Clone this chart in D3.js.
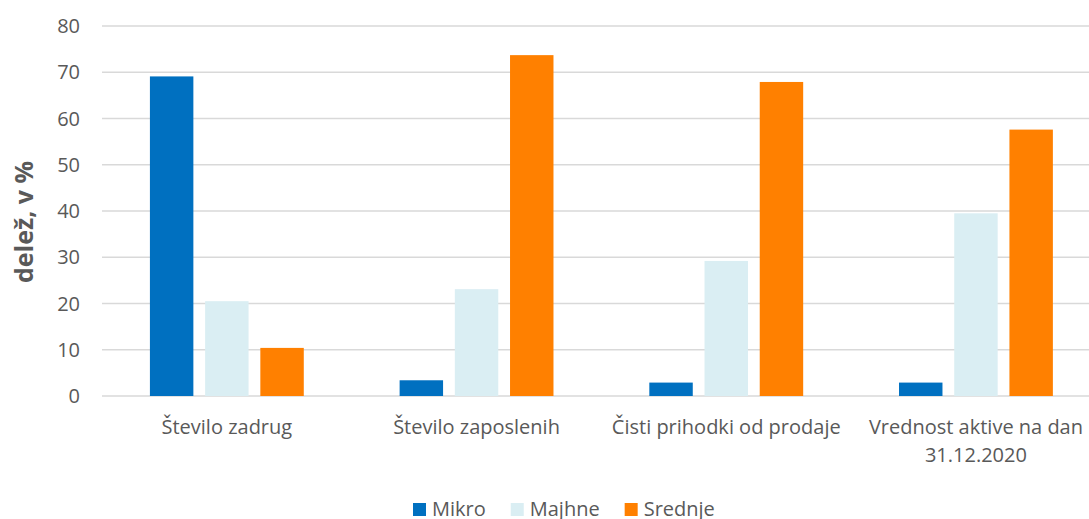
<!DOCTYPE html>
<html>
<head>
<meta charset="utf-8">
<script src="https://cdn.jsdelivr.net/npm/d3@7"></script>
<style>
  body { margin: 0; background: #fff; }
  svg { display: block; font-family: "Open Sans", sans-serif; }
</style>
</head>
<body>
<script>
var width = 1089, height = 519;

// data
var categories = ["Število zadrug", "Število zaposlenih", "Čisti prihodki od prodaje", "Vrednost aktive na dan 31.12.2020"];
var series = ["Mikro", "Majhne", "Srednje"];
var mikro = [69.1, 3.4, 2.9, 2.9];
var majhne = [20.5, 23.1, 29.2, 39.5];
var srednje = [10.4, 73.7, 67.9, 57.6];
var yTicks = [0, 10, 20, 30, 40, 50, 60, 70, 80];
var colors = ["#0070C0", "#DAEEF3", "#FF8000"];

var values = [mikro, majhne, srednje];
var rows = categories.map(function(c, i){
    return { cat: c, vals: series.map(function(s, j){ return { key: s, value: values[j][i] }; }) };
});

var svg = d3.select('body').append('svg')
    .attr('width', width)
    .attr('height', height);

var x0 = d3.scaleBand()
    .domain(categories)
    .range([102, 102 + 4 * 249.7])
    .padding(0);

var x1 = d3.scaleBand()
    .domain(series)
    .range([0, x0.bandwidth()])
    .paddingInner(0.213)
    .paddingOuter(0.868);

var y = d3.scaleLinear()
    .domain([0, 80])
    .range([396, 26]);

var color = d3.scaleOrdinal().domain(series).range(colors);

// gridlines
svg.append('g')
    .selectAll('line')
    .data(yTicks)
    .enter().append('line')
    .attr('x1', 102)
    .attr('x2', width)
    .attr('y1', function(d){ return y(d); })
    .attr('y2', function(d){ return y(d); })
    .attr('stroke', '#d9d9d9')
    .attr('stroke-width', 1.3);

// y tick labels
svg.append('g')
    .selectAll('text')
    .data(yTicks)
    .enter().append('text')
    .attr('x', 80)
    .attr('y', function(d){ return y(d); })
    .attr('dy', '.36em')
    .attr('text-anchor', 'end')
    .attr('font-size', '20px')
    .attr('fill', '#595959')
    .text(function(d){ return d; });

// y title
svg.append('text')
    .attr('transform', 'translate(33,222) rotate(-90)')
    .attr('text-anchor', 'middle')
    .attr('font-size', '25px')
    .attr('font-weight', 'bold')
    .attr('fill', '#595959')
    .text('delež, v %');

// bars
var groups = svg.append('g')
    .selectAll('g')
    .data(rows)
    .enter().append('g')
    .attr('transform', function(d){ return 'translate(' + x0(d.cat) + ',0)'; });

groups.selectAll('rect')
    .data(function(d){ return d.vals; })
    .enter().append('rect')
    .attr('x', function(d){ return x1(d.key); })
    .attr('width', x1.bandwidth())
    .attr('y', function(d){ return y(d.value); })
    .attr('height', function(d){ return y(0) - y(d.value); })
    .attr('fill', function(d){ return color(d.key); });

// category labels, wrapped to the band width
svg.append('g')
    .selectAll('text')
    .data(categories)
    .enter().append('text')
    .attr('x', function(d){ return x0(d) + x0.bandwidth() / 2; })
    .attr('y', 434)
    .attr('text-anchor', 'middle')
    .attr('font-size', '20px')
    .attr('fill', '#595959')
    .each(function(d){
        var el = d3.select(this);
        var words = d.split(' ');
        var line = [];
        var tspan = el.append('tspan').attr('x', el.attr('x')).attr('dy', 0);
        for (var i = 0; i < words.length; i++){
            line.push(words[i]);
            tspan.text(line.join(' '));
            if (tspan.node().getComputedTextLength() > x0.bandwidth() && line.length > 1){
                line.pop();
                tspan.text(line.join(' '));
                line = [words[i]];
                tspan = el.append('tspan').attr('x', el.attr('x')).attr('dy', '27.5px').text(words[i]);
            }
        }
    });

// legend
var legend = svg.append('g');
var lx = 413;
series.forEach(function(s, i){
    legend.append('rect')
        .attr('x', lx)
        .attr('y', 503)
        .attr('width', 13)
        .attr('height', 13)
        .attr('fill', color(s));
    var t = legend.append('text')
        .attr('x', lx + 19)
        .attr('y', 516)
        .attr('font-size', '20px')
        .attr('fill', '#595959')
        .text(s);
    lx = lx + 19 + t.node().getComputedTextLength() + 25;
});
</script>
</body>
</html>
